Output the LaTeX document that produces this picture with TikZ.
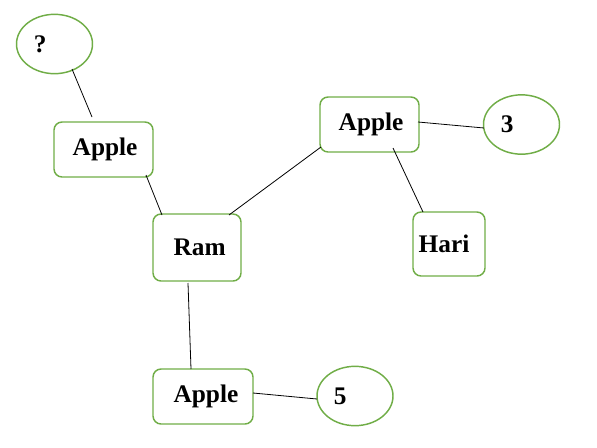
\documentclass[tikz,border=0pt]{standalone}
\usepackage{fontspec}
\setmainfont{Liberation Serif}
\usetikzlibrary{calc,shapes.geometric}
\definecolor{leafgreen}{RGB}{112,173,71}
\tikzset{
  wordbox/.style={draw=leafgreen, line width=1.1pt, rounded corners=6pt,
    inner sep=0pt, font=\fontsize{19}{22}\selectfont\bfseries},
  valoval/.style={ellipse, draw=leafgreen, line width=1.1pt, inner sep=0pt,
    minimum width=57pt, minimum height=44.5pt,
    font=\fontsize{19}{22}\selectfont\bfseries},
  link/.style={line width=0.6pt}
}
\begin{document}
\begin{tikzpicture}[x=0.75pt, y=-0.75pt]
\useasboundingbox (0,0) rectangle (597,447);
% nodes
\node [valoval] (q) at (54.5,44) {\makebox[31pt][l]{?}};
\node [wordbox, minimum width=74.25pt, minimum height=41.25pt] (a1) at (103.5,149.5) {\makebox[51pt][r]{Apple}};
\node [wordbox, minimum width=66pt, minimum height=50.25pt] (ram) at (197,247.5) {\makebox[43pt][r]{Ram}};
\node [wordbox, minimum width=74.25pt, minimum height=41.25pt] (a2) at (369.5,124.5) {\makebox[51pt][r]{Apple}};
\node [valoval] (three) at (521.5,124.5) {\makebox[31pt][l]{3}};
\node [wordbox, minimum width=54pt, minimum height=48pt] (hari) at (449,244) {\makebox[45.5pt][l]{Hari}};
\node [wordbox, minimum width=75pt, minimum height=41.25pt] (a3) at (203,396.5) {\makebox[53pt][r]{Apple}};
\node [valoval] (five) at (355,396) {\makebox[31.75pt][l]{5}};
% connectors
\draw [link] ($(q)+(17.5,25)$) -- ($(a1)+(-11.5,-32.5)$);
\draw [link] ($(a1)+(42.5,25.5)$) -- ($(ram)+(-35,-32.5)$);
\draw [link] ($(ram)+(32,-32.5)$) -- ($(a2)+(-48.5,22.5)$);
\draw [link] ($(a2)+(48.5,-2.5)$) -- ($(three)+(-37.5,3.5)$);
\draw [link] ($(a2)+(23.5,23.5)$) -- ($(hari)+(-26,-32)$);
\draw [link] ($(ram)+(-9,35.5)$) -- ($(a3)+(-12,-27.5)$);
\draw [link] ($(a3)+(50,-3.5)$) -- ($(five)+(-38,3)$);
\end{tikzpicture}
\end{document}
